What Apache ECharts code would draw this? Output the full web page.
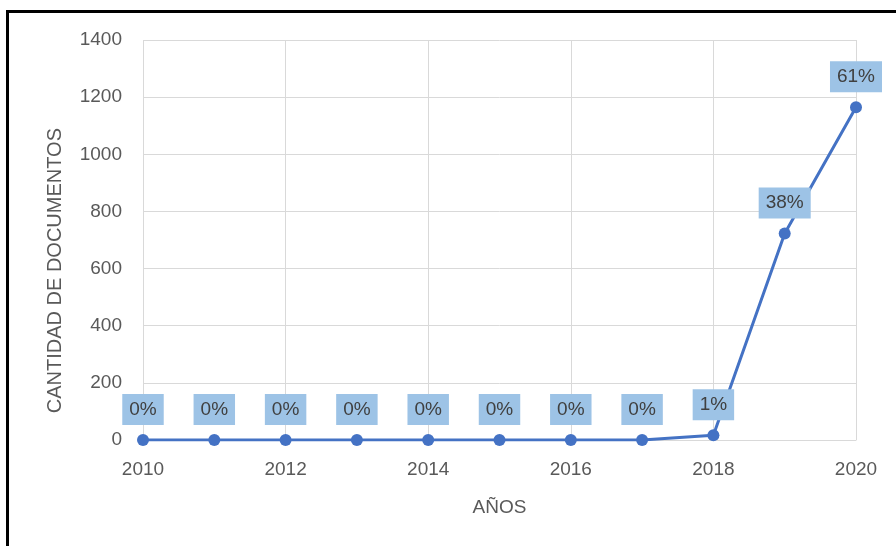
<!DOCTYPE html>
<html>
<head>
<meta charset="utf-8">
<title>Cantidad de documentos por año</title>
<script src="https://cdn.jsdelivr.net/npm/echarts@6/dist/echarts.min.js"></script>
<style>
  html, body { margin: 0; padding: 0; background: #fff; overflow: hidden; }
  #wrap { position: relative; width: 896px; height: 546px; }
  #chart { position: absolute; left: 0; top: 0; width: 896px; height: 546px; }
  #frame {
    position: absolute; left: 6px; top: 10px; width: 900px; height: 600px;
    border-top: 3px solid #000; border-left: 3px solid #000;
    pointer-events: none; box-sizing: border-box;
  }
</style>
</head>
<body>
<div id="wrap">
  <div id="chart"></div>
  <div id="frame"></div>
</div>
<script>
// Documents published per year
const years = [2010, 2011, 2012, 2013, 2014, 2015, 2016, 2017, 2018, 2019, 2020];
const documents = [0, 0, 0, 0, 0, 0, 0, 0, 17, 723, 1165];

// Share of the total for each year, shown as the point label
const total = documents.reduce((a, b) => a + b, 0);
const shares = documents.map(v => Math.round(v / total * 100) + '%');

const xAxisTitle = 'AÑOS';
const yAxisTitle = 'CANTIDAD DE DOCUMENTOS';

const textGrey = '#595959';
const gridGrey = '#D9D9D9';
const font = 'Liberation Sans, Arial, sans-serif';

const chart = echarts.init(document.getElementById('chart'), null, { renderer: 'canvas' });
chart.setOption({
  animation: false,
  backgroundColor: '#ffffff',
  grid: { left: 143, right: 40, top: 40, bottom: 106, containLabel: false },
  xAxis: {
    type: 'value',
    min: 2010, max: 2020, interval: 2,
    name: xAxisTitle,
    nameLocation: 'middle',
    nameGap: 58,
    nameTextStyle: { color: textGrey, fontSize: 19, fontFamily: font },
    axisLine: { show: true, lineStyle: { color: gridGrey, width: 1 } },
    axisTick: { show: false },
    axisLabel: { color: textGrey, fontSize: 19, fontFamily: font, margin: 20, formatter: v => String(v) },
    splitLine: { show: true, lineStyle: { color: gridGrey, width: 1 } }
  },
  yAxis: {
    type: 'value',
    min: 0, max: 1400, interval: 200,
    axisLine: { show: false },
    axisTick: { show: false },
    axisLabel: { color: textGrey, fontSize: 19, fontFamily: font, margin: 21, formatter: v => String(v) },
    splitLine: { show: true, lineStyle: { color: gridGrey, width: 1 } }
  },
  // Vertical y-axis title, set a little below the plot's middle
  graphic: [{
    type: 'text',
    left: 45,
    top: 128,
    rotation: Math.PI / 2,
    style: {
      text: yAxisTitle,
      fill: textGrey,
      fontSize: 20,
      fontFamily: font
    }
  }],
  series: [{
    type: 'line',
    data: years.map((y, i) => [y, documents[i]]),
    symbol: 'circle',
    symbolSize: 12,
    lineStyle: { color: '#4472C4', width: 3 },
    itemStyle: { color: '#4472C4' },
    label: {
      show: true,
      position: 'top',
      distance: 9,
      formatter: p => shares[p.dataIndex],
      color: '#404040',
      fontSize: 19,
      fontFamily: font,
      backgroundColor: '#9DC3E6',
      padding: [6, 7, 6, 7]
    }
  }]
});
</script>
</body>
</html>
